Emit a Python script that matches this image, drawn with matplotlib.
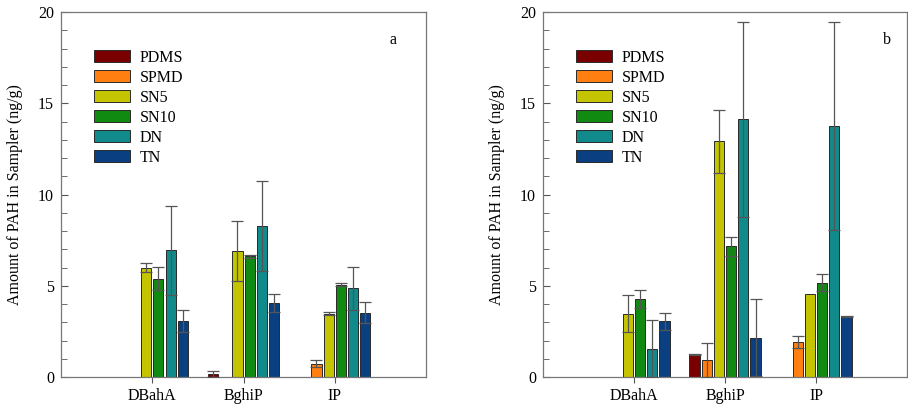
import numpy as np
import matplotlib
matplotlib.use("Agg")
import matplotlib.pyplot as plt

plt.rcParams['font.family'] = ['Liberation Serif', 'DejaVu Serif']

compounds = ["DBahA", "BghiP", "IP"]
samplers = ["PDMS", "SPMD", "SN5", "SN10", "DN", "TN"]
colors = ["#7a0000", "#ff7f10", "#c4c400", "#108a10", "#108a8a", "#0a4082"]

# panel a: rows = sampler, cols = compound
vals_a = [
    [0.0, 0.17, 0.0],   # PDMS
    [0.0, 0.0, 0.73],   # SPMD
    [6.0, 6.9, 3.47],   # SN5
    [5.39, 6.61, 5.05], # SN10
    [6.94, 8.26, 4.87], # DN
    [3.07, 4.05, 3.53], # TN
]
err_a = [
    [0.0, 0.18, 0.0],
    [0.0, 0.0, 0.18],
    [0.25, 1.65, 0.08],
    [0.62, 0.1, 0.08],
    [2.42, 2.46, 1.17],
    [0.58, 0.48, 0.57],
]

# panel b
vals_b = [
    [0.0, 1.24, 0.0],
    [0.0, 0.95, 1.92],
    [3.47, 12.93, 4.57],
    [4.29, 7.16, 5.17],
    [1.55, 14.12, 13.74],
    [3.05, 2.16, 3.34],
]
err_b = [
    [0.0, 0.03, 0.0],
    [0.0, 0.93, 0.31],
    [1.0, 1.72, 0.0],
    [0.5, 0.5, 0.46],
    [1.55, 5.33, 5.7],
    [0.48, 2.13, 0.03],
]

fig = plt.figure(figsize=(9.08, 4.09), dpi=100)
ax_a = fig.add_axes([0.0672, 0.0782, 0.402, 0.892])
ax_b = fig.add_axes([0.598, 0.0782, 0.401, 0.892])

x = np.arange(1, len(compounds) + 1)
step = 0.134
width = 0.112


def draw(ax, vals, errs, tag):
    for i, name in enumerate(samplers):
        pos = x + (i - 2.5) * step
        v = np.array(vals[i])
        e = np.array(errs[i])
        ax.bar(pos, v, width, color=colors[i], edgecolor="#2a2a2a",
               linewidth=0.7, label=name, zorder=2)
        m = e > 0
        ax.errorbar(pos[m], v[m], yerr=e[m], fmt="none", ecolor="#555555",
                    elinewidth=0.9, capsize=4, capthick=0.9, zorder=3)
    ax.set_xlim(0, 4)
    ax.set_ylim(0, 20)
    ax.set_xticks(x)
    ax.set_xticklabels(compounds, fontsize=11.5)
    ax.set_yticks([0, 5, 10, 15, 20])
    ax.set_yticks(np.arange(0, 21, 1), minor=True)
    ax.tick_params(axis="y", direction="in", labelsize=11.5, length=5,
                   color="#555555", pad=5)
    ax.tick_params(axis="y", which="minor", direction="in", length=4,
                   color="#555555")
    ax.tick_params(axis="x", direction="out", length=4, color="#555555",
                   pad=4)
    for s in ax.spines.values():
        s.set_color("#777777")
        s.set_linewidth(0.9)
    ax.set_ylabel("Amount of PAH in Sampler (ng/g)", fontsize=11.5,
                  labelpad=11)
    ax.legend(loc="upper left", bbox_to_anchor=(0.072, 0.915), frameon=False,
              fontsize=11.5, handlelength=2.3, handleheight=0.8,
              labelspacing=0.25, handletextpad=0.6, borderaxespad=0)
    ax.text(0.91 if tag == "a" else 0.945, 0.925, tag, transform=ax.transAxes,
            fontsize=11.5, ha="center", va="center")


draw(ax_a, vals_a, err_a, "a")
draw(ax_b, vals_b, err_b, "b")

fig.savefig("out.png", dpi=100)
